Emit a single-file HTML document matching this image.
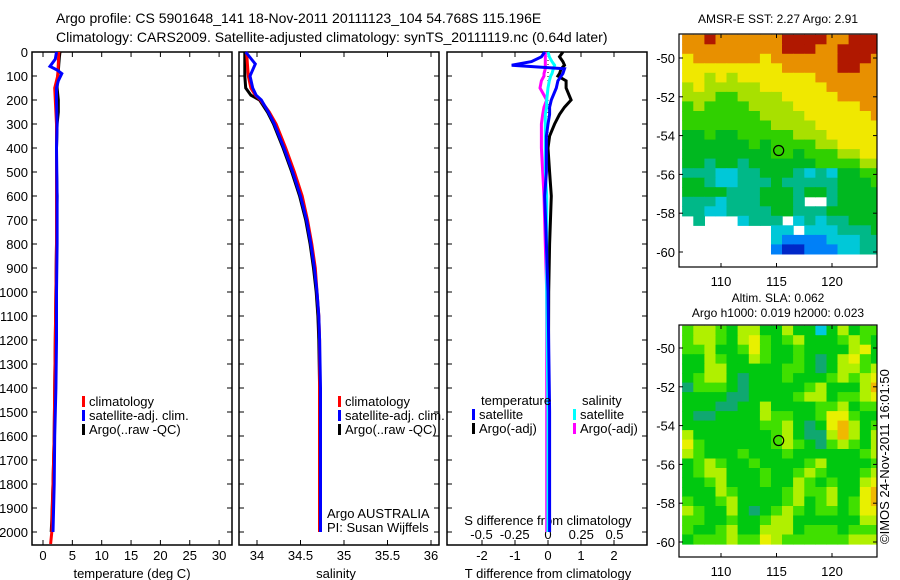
<!DOCTYPE html>
<html><head><meta charset="utf-8">
<style>
html,body{margin:0;padding:0;background:#fff;}
svg{display:block;font-family:"Liberation Sans",sans-serif;}
text{fill:#000;}
</style></head>
<body>
<svg id="fig" width="900" height="580" viewBox="0 0 900 580" xmlns="http://www.w3.org/2000/svg">
<rect width="900" height="580" fill="#fff"/>
<text x="56" y="23" font-size="14">Argo profile: CS 5901648_141 18-Nov-2011 20111123_104 54.768S 115.196E</text>
<text x="56" y="42" font-size="14">Climatology: CARS2009. Satellite-adjusted climatology: synTS_20111119.nc (0.64d later)</text>
<g id="g1"></g>
<g id="g2"></g>
<g id="g3"></g>
<g id="m1"></g>
<g id="m2"></g>
<text font-size="13" transform="translate(889,544) rotate(-90)">©IMOS 24-Nov-2011 16:01:50</text>
</svg>
<script>
// ---- profile data ----
const depthTicks = [0,100,200,300,400,500,600,700,800,900,1000,1100,1200,1300,1400,1500,1600,1700,1800,1900,2000];
const tempTicks = [0,5,10,15,20,25,30];
const salTicks = [34,34.5,35,35.5,36];
const salTickLabels = ["34","34.5","35","35.5","36"];
const dTTicks = [-2,-1,0,1,2];
const dSTicks = [-0.5,-0.25,0,0.25,0.5];

const argoTDepth = [0,20,50,80,100,150,200,250,300,400,500,600,800,1000,1200,1400,1600,1800,1950,2000];
const argoTemp   = [2.9,2.8,2.7,2.6,2.5,2.4,2.6,2.6,2.4,2.3,2.3,2.4,2.3,2.2,2.1,2.0,1.9,1.7,1.5,1.4];
const climTDepth = [0,50,100,150,200,300,400,600,800,1000,1200,1400,1600,1800,2000,2050];
const climTemp   = [2.7,2.6,2.5,2.0,2.1,2.3,2.3,2.3,2.3,2.2,2.1,2.0,1.9,1.7,1.5,1.3];
const satTDepth  = [0,30,60,75,90,120,150,200,300,400,600,800,1000,1200,1400,1600,1800,2000];
const satTemp    = [2.3,2.1,1.2,2.4,3.2,2.6,2.3,2.3,2.4,2.3,2.4,2.4,2.3,2.3,2.2,2.0,1.9,1.7];

const salDepth   = [0,50,100,150,180,200,250,300,400,500,600,700,800,900,1000,1100,1200,1400,1600,2000];
const argoSal    = [33.86,33.86,33.86,33.87,33.93,34.03,34.12,34.19,34.30,34.40,34.49,34.56,34.61,34.65,34.68,34.70,34.71,34.72,34.72,34.72];
const climSal    = [33.88,33.89,33.90,33.93,33.98,34.04,34.14,34.22,34.33,34.43,34.52,34.58,34.63,34.67,34.69,34.71,34.72,34.72,34.72,34.72];
const satSal     = [33.87,33.98,33.92,33.95,33.99,34.05,34.13,34.20,34.31,34.41,34.50,34.57,34.62,34.66,34.69,34.71,34.72,34.73,34.73,34.73];

const dDepth = [0,20,40,55,70,90,100,120,150,200,230,260,300,350,400,500,600,800,1000,1500,2000];
const argoDT = [0.45,0.35,0.45,0.5,0.4,0.35,0.3,0.55,0.55,0.7,0.5,0.35,0.2,0.05,0.0,0.05,0.1,0.05,0.02,0.01,0.0];
const satDT  = [-0.1,-0.2,-0.5,-1.1,0.5,0.45,0.4,0.3,0.25,0.1,0.05,0.05,0.0,-0.05,-0.05,-0.05,-0.1,-0.05,0.0,0.05,0.05];
const satDS  = [0.0,0.01,0.03,0.05,0.04,0.03,0.02,0.01,0.0,-0.01,-0.01,-0.02,-0.02,-0.02,-0.02,-0.02,-0.01,-0.01,-0.01,0.0,0.0];
const argoDS = [-0.02,-0.02,-0.02,-0.02,-0.02,-0.03,-0.03,-0.05,-0.06,-0.01,-0.03,-0.04,-0.05,-0.05,-0.05,-0.04,-0.03,-0.02,-0.01,-0.01,-0.01];

// ---- map data (one char per cell, ' ' = missing) ----
const sstRows = [
"889888888999988999","888888888999889999","788888878888889998","777777777888889988",
"776767777777888888","676666677777788888","666556666777778888","565555666677777788",
"555555566667777778","555555556666777777","445445555566677777","444444545555667777",
"444444445545556677","443443444444555566","333223344432324455","443223334333334445",
"444433344434434444","33323334443  34444","332233334433344444"," 3   2333 23233444",
"        22 2223334","        2111122233","        1001112233"];
const slaRows = [
"566546644644c46455","566546754564445654","556445754454444674","446544654454346754",
"446644444554346656","456643444544456567","355543444445644468","444433444456645567",
"444334464444556455","433444465544577544","444444455643478645","644444445643368646",
"754444445654356546","654445444544444456","456544544445644445","456644454456544456",
"445644454465454467","444654444565564478","544564444564564578","654464345654554577",
"554454456644444466","544564466645554555","455565576555555666"];
const argoLon = [115.196];
const argoLat = [-54.768];
const mapLonTicks = [110,115,120];
const mapLatTicks = [-50,-52,-54,-56,-58,-60];

const NS='http://www.w3.org/2000/svg';
function mk(parent, tag, attrs){const e=document.createElementNS(NS,tag);for(const k in attrs)e.setAttribute(k,attrs[k]);parent.appendChild(e);return e;}
function txt(parent,x,y,s,size,anchor){const t=mk(parent,'text',{x:x,y:y,'font-size':size,'text-anchor':anchor||'start'});t.textContent=s;return t;}

const top0=52, bot=545;
const yD = d => top0 + d*0.24;
const P1={l:32,r:232}, P2={l:239,r:439}, P3={l:447,r:647};
const xT = v => 43 + v*5.87;
const xS = v => 257 + (v-34)*87;
const xDT = v => 548 + v*33;
const xDS = v => 548 + v*133;

function frame(g,P){
  const r=mk(g,'rect',{x:P.l,y:top0,width:P.r-P.l,height:bot-top0,fill:'none',stroke:'#000','stroke-width':1.5});
  
  
  depthTicks.forEach(d=>{
    mk(g,'line',{x1:P.l,x2:P.l+5,y1:yD(d),y2:yD(d),stroke:'#000'});
    mk(g,'line',{x1:P.r-5,x2:P.r,y1:yD(d),y2:yD(d),stroke:'#000'});
  });
}
function xticks(g,vals,labels,fx,ly){
  vals.forEach((v,i)=>{
    const x=fx(v);
    mk(g,'line',{x1:x,x2:x,y1:bot-5,y2:bot,stroke:'#000'});
    mk(g,'line',{x1:x,x2:x,y1:top0,y2:top0+5,stroke:'#000'});
    const t=txt(g,x,ly,labels[i],13,'middle');
    
    
  });
}
function line(g,xs,ds,fx,color,w,name){
  const pts=xs.map((v,i)=>fx(v).toFixed(1)+','+yD(ds[i]).toFixed(1)).join(' ');
  const p=mk(g,'polyline',{points:pts,fill:'none',stroke:color,'stroke-width':w,'stroke-linejoin':'miter'});
  
  
}
function legend(g,x,y,items){
  items.forEach((it,i)=>{
    mk(g,'rect',{x:x,y:y+i*14-9,width:3,height:11,fill:it[1]});
    const t=txt(g,x+7,y+i*14+1,it[0],13);
    
    
  });
}

// panel 1
const g1=document.getElementById('g1');
frame(g1,P1);
depthTicks.forEach(d=>{const t=txt(g1,28,yD(d)+5,String(d),13,'end');
  
  });
xticks(g1,tempTicks,tempTicks.map(String),xT,560);
const xl1=txt(g1,132,578,'temperature (deg C)',13,'middle');


line(g1,argoTemp,argoTDepth,xT,'#000',3,'argo-temperature');
line(g1,climTemp,climTDepth,xT,'#f00',3,'clim-temperature');
line(g1,satTemp,satTDepth,xT,'#00f',3,'sat-temperature');
legend(g1,82,405,[['climatology','#f00'],['satellite-adj. clim.','#00f'],['Argo(..raw -QC)','#000']]);

// panel 2
const g2=document.getElementById('g2');
frame(g2,P2);
xticks(g2,salTicks,salTickLabels,xS,560);
const xl2=txt(g2,336,578,'salinity',13,'middle');


line(g2,argoSal,salDepth,xS,'#000',3,'argo-salinity');
line(g2,climSal,salDepth,xS,'#f00',3,'clim-salinity');
line(g2,satSal,salDepth,xS,'#00f',3,'sat-salinity');
legend(g2,338,405,[['climatology','#f00'],['satellite-adj. clim.','#00f'],['Argo(..raw -QC)','#000']]);
const a1=txt(g2,327,518,'Argo AUSTRALIA',13);


const a2=txt(g2,327,532,'PI: Susan Wijffels',13);



// panel 3
const g3=document.getElementById('g3');
frame(g3,P3);
mk(g3,'line',{x1:548,x2:548,y1:top0,y2:yD(450),stroke:'#000','stroke-dasharray':'1,3'});
dTTicks.forEach(v=>{const x=xDT(v);
  mk(g3,'line',{x1:x,x2:x,y1:bot-5,y2:bot,stroke:'#000'});
  mk(g3,'line',{x1:x,x2:x,y1:top0,y2:top0+5,stroke:'#000'});
  const t=txt(g3,x,560,String(v),13,'middle');
  
  });
dSTicks.forEach(v=>{
  const t=txt(g3,xDS(v),539,String(v).replace('0.','0.').replace('-0.','-0.').replace(/^(-?)0\./,'$10.'),13,'middle');
  t.textContent = v===0?'0':(v<0?'-':'')+String(Math.abs(v)).replace(/^0/,'0');
  
  });
const st=txt(g3,548,525,'S difference from climatology',13,'middle');


const tt=txt(g3,548,578,'T difference from climatology',13,'middle');


line(g3,argoDT,dDepth,xDT,'#000',3,'argo-t-diff');
line(g3,argoDS,dDepth,xDS,'#f0f',3,'argo-s-diff');
line(g3,satDS,dDepth,xDS,'#0ff',3,'sat-s-diff');
line(g3,satDT,dDepth,xDT,'#00f',3,'sat-t-diff');
const h1=txt(g3,481,405,'temperature',13);


const h2=txt(g3,582,405,'salinity',13);


legend(g3,472,418,[['satellite','#00f'],['Argo(-adj)','#000']]);
legend(g3,573,418,[['satellite','#0ff'],['Argo(-adj)','#f0f']]);

// maps
const sstPal={'0':'#0028c8','1':'#0080f8','2':'#00c8d8','3':'#00b888','4':'#00b820','5':'#30d000','6':'#a8e000','7':'#f0e800','8':'#e89000','9':'#b01800'};
const slaPal={'c':'#00c8e0','3':'#10a870','4':'#00c810','5':'#40e000','6':'#b0f000','7':'#e8f000','8':'#f0b800'};
function drawMap(g,B,rows,pal,latTop,latBot,latFn,lonFn,labels,title1,title2){
  const nr=rows.length, nc=rows[0].length;
  const lon0=106.5, lon1=124.5;
  rows.forEach((row,j)=>{
    const la0=latTop+(latBot-latTop)*j/nr, la1=latTop+(latBot-latTop)*(j+1)/nr;
    for(let i=0;i<nc;i++){
      const c=row[i]; if(c===' ')continue;
      const x0=lonFn(lon0+(lon1-lon0)*i/nc), x1=lonFn(lon0+(lon1-lon0)*(i+1)/nc);
      const r=mk(g,'rect',{x:x0.toFixed(1),y:latFn(la0).toFixed(1),width:(x1-x0+0.6).toFixed(1),height:(latFn(la1)-latFn(la0)+0.6).toFixed(1),fill:pal[c]});
      
      
    }
  });
  mk(g,'rect',{x:B.r,y:B.t-2,width:30,height:B.b-B.t+4,fill:'#fff'});
  const fr=mk(g,'rect',{x:B.l,y:B.t,width:B.r-B.l,height:B.b-B.t,fill:'none',stroke:'#000','stroke-width':1.2});
  
  
  mapLonTicks.forEach(v=>{const x=lonFn(v);
    mk(g,'line',{x1:x,x2:x,y1:B.b-4,y2:B.b,stroke:'#000'});
    mk(g,'line',{x1:x,x2:x,y1:B.t,y2:B.t+4,stroke:'#000'});
    const t=txt(g,x,labels,String(v),13,'middle');
    
    });
  mapLatTicks.forEach(v=>{const y=latFn(v);
    mk(g,'line',{x1:B.l,x2:B.l+4,y1:y,y2:y,stroke:'#000'});
    mk(g,'line',{x1:B.r-4,x2:B.r,y1:y,y2:y,stroke:'#000'});
    const t=txt(g,B.l-4,y+5,String(v),13,'end');
    
    });
  const c=mk(g,'circle',{cx:lonFn(argoLon[0]),cy:latFn(argoLat[0]),r:5,fill:'none',stroke:'#000','stroke-width':1.2});
  
  
  title1.forEach(t=>{const e=txt(g,(B.l+B.r)/2,t[1],t[0],12,'middle');
    
    });
}
const lonF = v => 721 + (v-110)*11.1;
drawMap(document.getElementById('m1'),{l:679,r:877,t:34,b:267},sstRows,sstPal,-48.8,-60.1,
  v=>58+(-50-v)*19.4,lonF,286,[['AMSR-E SST: 2.27 Argo: 2.91',23]]);
drawMap(document.getElementById('m2'),{l:679,r:877,t:325,b:557},slaRows,slaPal,-48.85,-60.1,
  v=>348+(-50-v)*19.4,lonF,576,[['Altim. SLA: 0.062',302],['Argo h1000: 0.019 h2000: 0.023',317]]);
</script>
</body></html>
